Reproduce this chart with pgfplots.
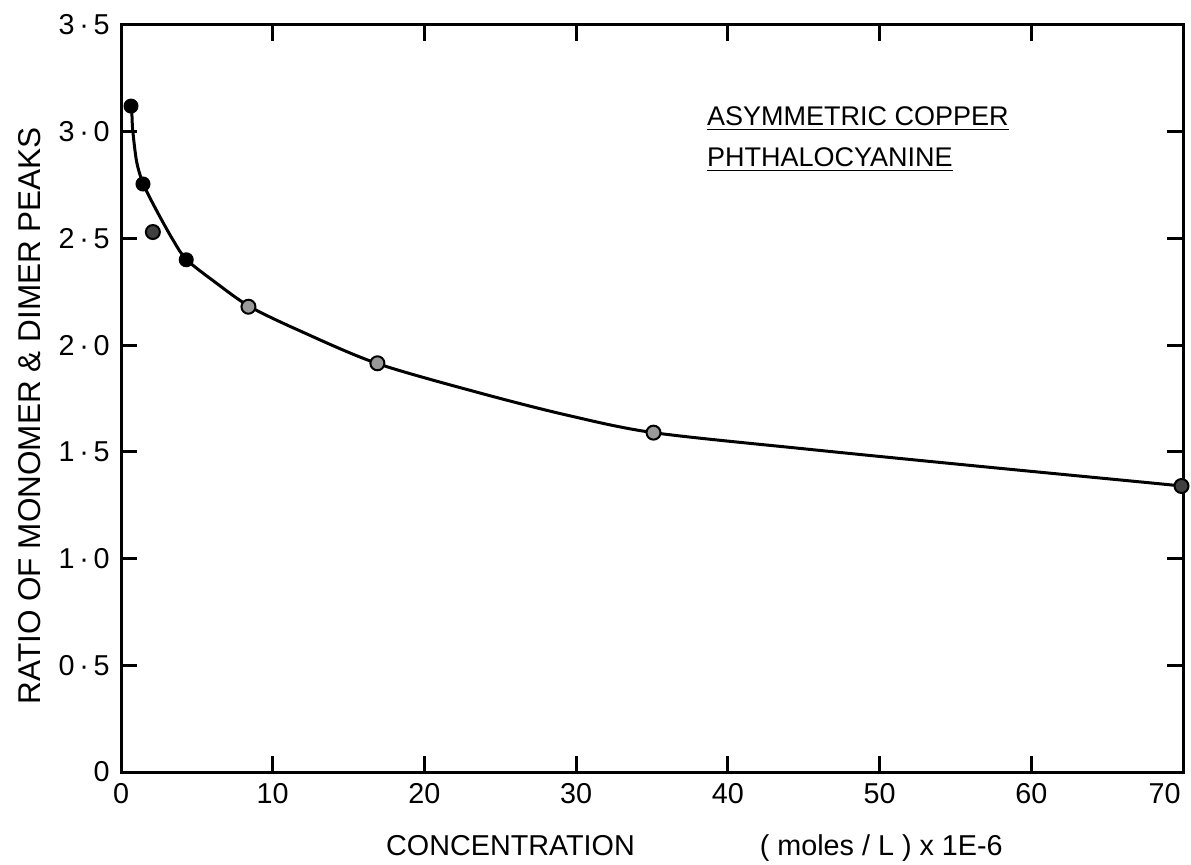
\documentclass[border=0pt]{standalone}
\usepackage{fontspec}
\setmainfont{Liberation Sans}
\usepackage{pgfplots}
\pgfplotsset{compat=1.18}
\begin{document}
\begin{tikzpicture}
\begin{axis}[
  scale only axis,
  width=424.8pt, height=298.8pt,
  xmin=0, xmax=70, ymin=0, ymax=3.5,
  xtick={0,10,...,70},
  xticklabels={0,10,20,30,40,50,60,\makebox[0pt][r]{70\kern1pt}},
  ytick={0,0.5,1,1.5,2,2.5,3,3.5},
  yticklabels={0,0\,·\,5,1\,·\,0,1\,·\,5,2\,·\,0,2\,·\,5,3\,·\,0,3\,·\,5},
  /pgf/number format/assume math mode=true,
  tick align=inside,
  major tick length=6.5pt,
  tick style={line width=1.1pt, black},
  axis line style={line width=1.2pt},
  ticklabel style={font=\fontsize{11.5}{13}\selectfont},
  xticklabel style={yshift=-1pt},
  yticklabel style={xshift=-1pt},
  xlabel={CONCENTRATION\hspace{50pt}( moles / L ) x 1E-6},
  ylabel={RATIO OF MONOMER \& DIMER PEAKS},
  xlabel style={font=\fontsize{11.5}{13}\selectfont, at={(axis description cs:0.54,-0.102)}, anchor=center},
  ylabel style={font=\fontsize{12.6}{14}\selectfont, at={(axis description cs:-0.0857,0.477)}, anchor=center},
  clip=false,
]
% fitted curve (hand-read)
\addplot[smooth, tension=0.5, line width=1.2pt, black, no markers] coordinates {
(0.72,3.09) (0.77,3.01) (1.03,2.86) (1.47,2.755) (2.35,2.63) (3.45,2.49)
(4.33,2.40) (6.3,2.29) (8.5,2.18) (11.7,2.07) (16.85,1.915) (23.7,1.775)
(29.4,1.672) (35.1,1.59) (45.2,1.513) (56.2,1.435) (67.8,1.355) (69.9,1.34)
};
% solid points
\addplot[only marks, mark=*, mark size=2.8pt, mark options={fill=black, draw=black}] coordinates {
(0.66,3.12) (1.45,2.755) (4.3,2.40)
};
\addplot[only marks, mark=*, mark size=2.8pt, mark options={fill=black!75, draw=black, line width=0.8pt}] coordinates {
(2.1,2.53) (69.9,1.34)
};
% lighter points
\addplot[only marks, mark=*, mark size=2.8pt, mark options={fill=black!40, draw=black, line width=0.8pt}] coordinates {
(8.4,2.18) (16.9,1.915) (35.1,1.59)
};
\node[anchor=north west, align=left, font=\fontsize{10.8}{15}\selectfont, inner sep=0pt]
  at (axis cs:38.6,3.12) {\underline{ASYMMETRIC COPPER}\\[1.5pt]\underline{PHTHALOCYANINE}};
\end{axis}
\pgfresetboundingbox
\path[use as bounding box] ([xshift=-48.4pt,yshift=-36.8pt]current axis.south west) rectangle ([xshift=3.2pt,yshift=10pt]current axis.north east);
\end{tikzpicture}
\end{document}
